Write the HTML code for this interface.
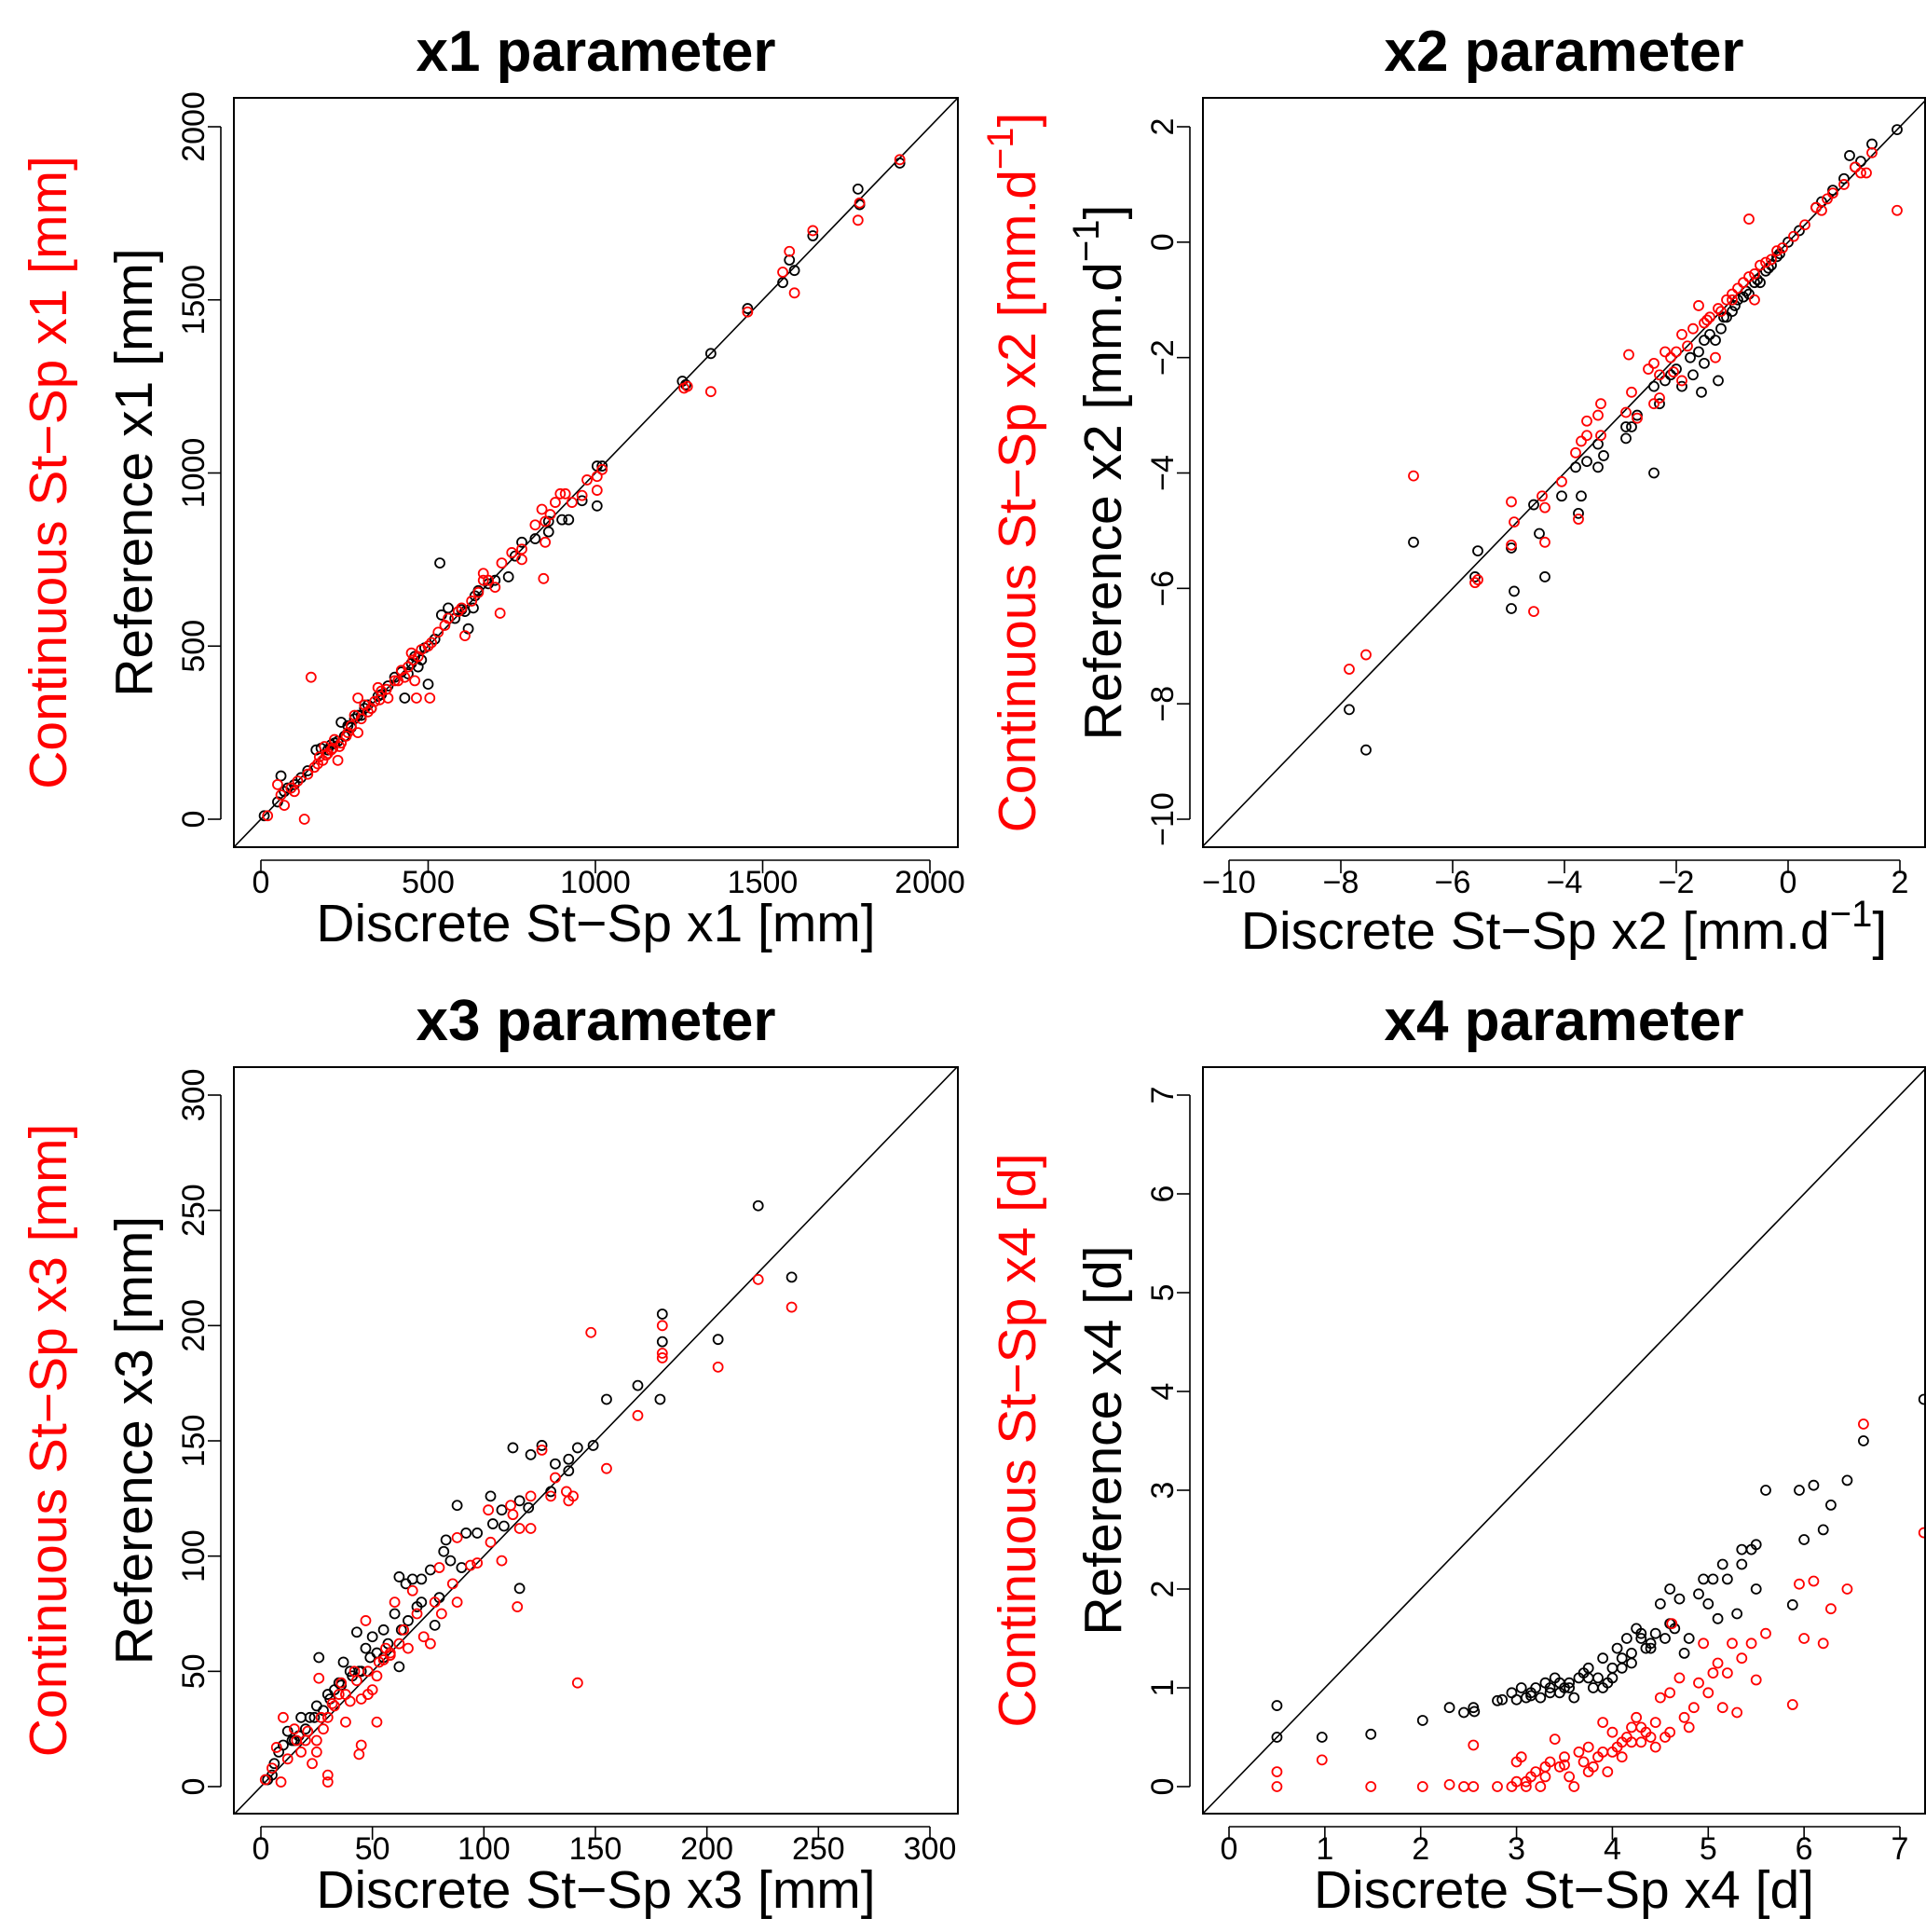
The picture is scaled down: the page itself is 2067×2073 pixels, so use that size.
<!DOCTYPE html>
<html><head><meta charset="utf-8">
<style>
html,body{margin:0;padding:0;background:#fff;overflow:hidden;width:2067px;height:2073px;}
svg{display:block;font-family:"Liberation Sans",Arial,sans-serif;}
</style></head>
<body>
<svg id="fig" width="2067" height="2073" viewBox="0 0 2067 2073" xmlns="http://www.w3.org/2000/svg"></svg>
<script>
// ---------- data: x1 panel ----------
const p1BlackX=[1910,1785,1790,1650,1595,1580,1560,1455,1345,1260,1270,1005,1020,1005,960,920,900,860,820,780,740,700,650,635,620,560,540,535,500,470,430,440,400,360,320,300,280,260,240,220,200,180,165,140,120,100,70,60,50,10,80,250,330,450,480,580,610,680,760,860,210,230,270,290,310,350,380,420,460,490,520,600,640];
const p1BlackY=[1895,1820,1775,1685,1585,1615,1550,1475,1345,1265,1255,1020,1020,905,920,865,865,830,810,800,700,690,660,610,550,610,590,740,390,440,350,420,410,360,330,300,290,270,280,220,200,205,200,140,120,100,80,125,50,10,90,240,320,450,460,580,600,680,760,860,215,225,265,300,320,355,385,425,470,495,520,605,645];
const p1RedX=[1910,1790,1785,1650,1595,1580,1560,1455,1345,1265,1275,1020,1005,1005,975,960,930,910,895,880,865,850,840,845,850,820,780,780,750,720,715,700,665,665,650,610,600,560,530,510,500,460,465,505,440,450,430,400,380,350,320,290,280,290,260,240,230,210,200,185,170,150,130,140,110,90,60,50,20,70,100,160,190,220,270,310,340,360,420,470,550,590,630,680,175,195,215,235,255,300,330,355,375,410,455,480];
const p1RedY=[1905,1780,1730,1700,1520,1640,1580,1465,1235,1245,1250,1010,990,950,980,935,915,940,940,915,880,860,895,695,800,850,780,750,770,740,595,670,710,690,655,530,610,580,540,510,500,400,350,350,440,480,410,400,350,380,310,350,300,250,250,220,170,200,190,170,160,410,0,130,110,90,70,100,10,40,80,150,210,230,270,330,340,370,430,470,560,600,630,690,180,185,205,210,240,290,320,345,375,400,460,490];
// ---------- data: x2 panel ----------
const p2BlackX=[1.95,1.5,1.1,1.3,1.0,0.8,0.5,0.2,0,-0.2,-0.4,-0.5,-0.7,-0.9,-1.0,-1.2,-1.3,-1.5,-1.6,-1.5,-1.75,-1.55,-1.25,-1.7,-1.9,-2.0,-2.2,-2.4,-2.3,-2.4,-2.7,-2.9,-2.8,-2.9,-3.3,-3.4,-3.6,-3.8,-3.4,-3.7,-4.05,-3.75,-4.55,-4.35,-4.45,-4.95,-4.9,-4.95,-5.55,-5.6,-6.7,-7.85,-7.55,-1.1,-0.8,-0.6,-0.3,-1.4,-2.1,0.6,1.2,-0.15,-0.35,-0.55,-0.75,-0.95,-1.15];
const p2BlackY=[1.95,1.7,1.5,1.4,1.1,0.9,0.6,0.2,0,-0.25,-0.5,-0.7,-0.9,-1.0,-1.2,-1.5,-1.7,-1.7,-1.9,-2.1,-2.0,-2.6,-2.4,-2.3,-2.5,-2.2,-2.4,-2.5,-2.8,-4.0,-3.0,-3.4,-3.2,-3.2,-3.7,-3.5,-3.8,-3.9,-3.9,-4.4,-4.4,-4.7,-4.55,-5.8,-5.05,-5.3,-6.05,-6.35,-5.35,-5.8,-5.2,-8.1,-8.8,-1.3,-0.95,-0.7,-0.4,-1.6,-2.3,0.7,1.3,-0.2,-0.45,-0.65,-0.85,-1.1,-1.3];
const p2RedX=[1.95,1.5,1.4,1.2,1.0,0.8,0.5,0.3,0.1,-0.1,-0.3,-0.5,-0.7,-0.7,-0.9,-0.6,-1.0,-1.2,-1.4,-1.6,-1.7,-1.8,-1.3,-1.9,-2.0,-2.1,-2.2,-2.4,-2.5,-2.3,-1.9,-2.85,-2.8,-2.3,-2.4,-2.7,-2.9,-3.35,-3.4,-3.6,-3.6,-3.7,-3.8,-3.35,-4.05,-4.4,-4.35,-3.75,-4.95,-4.9,-4.95,-4.35,-4.55,-5.55,-5.6,-6.7,-7.85,-7.55,-1.0,-0.8,-1.5,-2.05,0.6,0.7,1.3,-0.2,-0.4,-0.6,-1.1,-1.25,-1.45];
const p2RedY=[0.55,1.55,1.2,1.3,1.0,0.85,0.6,0.3,0.1,-0.1,-0.3,-0.4,0.4,-0.6,-0.8,-1.0,-0.9,-1.2,-1.3,-1.1,-1.5,-1.8,-2.0,-1.6,-1.9,-2.0,-1.9,-2.1,-2.2,-2.3,-2.4,-1.95,-2.6,-2.7,-2.8,-3.05,-2.95,-2.8,-3.0,-3.1,-3.35,-3.45,-3.65,-3.35,-4.15,-4.4,-4.6,-4.8,-4.5,-4.85,-5.25,-5.2,-6.4,-5.85,-5.9,-4.05,-7.4,-7.15,-1.0,-0.7,-1.4,-2.25,0.55,0.75,1.2,-0.15,-0.35,-0.55,-1.0,-1.15,-1.35];
// ---------- data: x3 panel ----------
const p3BlackX=[223,238,205,180,180,179,169,155,149,142,138,138,132,126,121,113,130,120,116,116,109,108,103,104,97,92,88,83,82,85,80,76,72,68,65,62,60,55,50,43,47,45,40,37,35,30,26,25,22,20,17,14,10,8,6,5,3,62,70,78,55,33,28,12,18,41,52,66,72,90,15,24,31,36,44,49,57,63];
const p3BlackY=[252,221,194,205,193,168,174,168,148,147,137,142,140,148,144,147,128,121,124,86,113,120,126,114,110,110,122,107,102,98,82,94,90,90,88,91,75,68,65,67,60,50,50,54,45,40,56,35,30,25,22,20,18,15,10,5,3,52,78,70,56,42,33,24,30,48,58,72,80,95,20,30,38,44,50,56,62,68];
const p3RedX=[223,238,205,180,180,180,169,155,148,142,140,138,137,132,130,126,121,121,116,115,112,113,108,102,103,97,94,88,88,86,81,80,76,73,70,68,64,60,58,55,52,50,47,45,48,40,38,36,30,26,25,23,20,25,30,30,45,44,52,10,9,7,5,2,15,18,33,62,56,66,78,35,42,28,12,16,21,27,32,38,43,48,53,58];
const p3RedY=[220,208,182,200,188,186,161,138,197,45,126,124,128,134,126,146,126,112,112,78,122,118,98,120,106,97,96,108,80,88,75,95,62,65,75,85,68,80,58,55,48,42,72,38,40,37,28,45,30,47,20,10,20,15,2,5,18,14,28,30,2,17,8,3,25,15,35,62,60,60,80,40,50,25,12,20,24,30,36,40,46,50,54,57];
// ---------- data: x4 panel ----------
const p4BlackX=[0.5,0.5,0.97,1.48,2.02,2.3,2.45,2.55,2.56,2.8,2.85,2.95,3.0,3.05,3.1,3.15,3.2,3.3,3.35,3.4,3.45,3.5,3.55,3.6,3.65,3.7,3.75,3.8,3.85,3.9,3.95,4.0,4.05,4.1,4.15,4.2,4.25,4.3,4.35,4.4,4.45,4.5,4.55,4.6,4.65,4.7,4.75,4.8,4.9,4.95,5.0,5.05,5.1,5.15,5.2,5.3,5.35,5.35,5.45,5.5,5.5,5.6,5.88,5.95,6.0,6.1,6.2,6.28,6.45,6.62,7.25,3.25,3.45,4.2,3.9,4.0,4.6,4.3,3.15,3.35,3.55,3.75,4.1,4.4];
const p4BlackY=[0.82,0.5,0.5,0.53,0.67,0.8,0.75,0.8,0.76,0.87,0.88,0.95,0.88,1.0,0.9,0.95,1.0,1.05,0.95,1.1,1.05,1.0,1.0,0.9,1.1,1.15,1.2,1.0,1.1,1.3,1.05,1.2,1.4,1.3,1.5,1.25,1.6,1.5,1.4,1.45,1.55,1.85,1.5,2.0,1.6,1.9,1.35,1.5,1.95,2.1,1.85,2.1,1.7,2.25,2.1,1.75,2.4,2.25,2.4,2.45,2.0,3.0,1.84,3.0,2.5,3.05,2.6,2.85,3.1,3.5,3.92,0.9,0.95,1.35,1.0,1.1,1.65,1.55,0.92,1.0,1.05,1.1,1.2,1.4];
const p4RedX=[0.5,0.5,0.97,1.48,2.02,2.3,2.45,2.55,2.55,2.8,2.95,3.0,3.0,3.05,3.1,3.15,3.2,3.25,3.3,3.35,3.4,3.45,3.5,3.55,3.6,3.65,3.7,3.75,3.8,3.85,3.9,3.95,4.0,4.05,4.1,4.15,4.2,4.25,4.3,4.35,4.4,4.45,4.5,4.55,4.6,4.62,4.7,4.75,4.8,4.85,4.9,4.95,5.0,5.05,5.1,5.15,5.2,5.25,5.3,5.35,5.45,5.5,5.6,5.88,5.95,6.0,6.1,6.2,6.28,6.45,6.62,7.25,4.0,4.2,3.75,4.45,4.6,3.1,3.3,3.5,3.9,4.1,4.3];
const p4RedY=[0,0.15,0.27,0,0,0.02,0,0,0.42,0,0,0.05,0.25,0.3,0,0.1,0.15,0,0.2,0.25,0.48,0.2,0.3,0.1,0,0.35,0.25,0.4,0.2,0.3,0.65,0.15,0.55,0.4,0.3,0.5,0.6,0.7,0.45,0.55,0.5,0.65,0.9,0.5,0.95,1.65,1.1,0.7,0.6,0.8,1.05,1.45,0.95,1.15,1.25,0.8,1.15,1.45,0.75,1.3,1.45,1.08,1.55,0.83,2.05,1.5,2.08,1.45,1.8,2.0,3.67,2.57,0.35,0.45,0.15,0.4,0.55,0.05,0.1,0.22,0.35,0.45,0.6];
// ---------- tick labels ----------
const p1Ticks=[0,500,1000,1500,2000];
const p2Ticks=[-10,-8,-6,-4,-2,0,2];
const p3Ticks=[0,50,100,150,200,250,300];
const p4Ticks=[0,1,2,3,4,5,6,7];

const NS="http://www.w3.org/2000/svg";
const svg=document.getElementById('fig');
function mk(tag,attrs,parent){const e=document.createElementNS(NS,tag);for(const k in attrs)e.setAttribute(k,attrs[k]);(parent||svg).appendChild(e);return e;}

const panels=[
 {id:'x1',box:[251,105,1028,909],xd:[0,2000],xp:[280,998],yd:[0,2000],yp:[879,136],ticks:p1Ticks,
  bx:p1BlackX,by:p1BlackY,rx:p1RedX,ry:p1RedY,unit:'[mm]',sup:false},
 {id:'x2',box:[1291,105,2066,909],xd:[-10,2],xp:[1319,2039],yd:[-10,2],yp:[879,136],ticks:p2Ticks,
  bx:p2BlackX,by:p2BlackY,rx:p2RedX,ry:p2RedY,unit:'',sup:true},
 {id:'x3',box:[251,1145,1028,1946],xd:[0,300],xp:[280,998],yd:[0,300],yp:[1917,1175],ticks:p3Ticks,
  bx:p3BlackX,by:p3BlackY,rx:p3RedX,ry:p3RedY,unit:'[mm]',sup:false},
 {id:'x4',box:[1291,1145,2066,1946],xd:[0,7],xp:[1319,2039],yd:[0,7],yp:[1917,1175],ticks:p4Ticks,
  bx:p4BlackX,by:p4BlackY,rx:p4RedX,ry:p4RedY,unit:'[d]',sup:false}
];

panels.forEach((P,i)=>{
  const g=mk('g',{});
  
  
  const sx=v=>P.xp[0]+(v-P.xd[0])/(P.xd[1]-P.xd[0])*(P.xp[1]-P.xp[0]);
  const sy=v=>P.yp[0]+(v-P.yd[0])/(P.yd[1]-P.yd[0])*(P.yp[1]-P.yp[0]);
  const [L,T,R,B]=P.box;
  const cx=(L+R)/2;
  const t=mk('text',{x:cx,y:T-29,'text-anchor':'middle','font-size':62,'font-weight':'bold',fill:'#000'},g);
  t.textContent=P.id+' parameter';
  
  
  const cp=mk('clipPath',{id:'clip'+i},g);
  mk('rect',{x:L,y:T,width:R-L,height:B-T},cp);
  const lo=Math.min(P.xd[0],P.yd[0])-100, hi=Math.max(P.xd[1],P.yd[1])+100;
  const dl=mk('line',{x1:sx(lo),y1:sy(lo),x2:sx(hi),y2:sy(hi),stroke:'#000','stroke-width':1.6,'clip-path':'url(#clip'+i+')'},g);
  
  
  const drawPts=(xs,ys,col,nm)=>{
    const pg=mk('g',{'clip-path':'url(#clip'+i+')'},g);
    
    
    xs.forEach((v,k)=>{
      const c=mk('circle',{cx:sx(v),cy:sy(ys[k]),r:5,fill:'none',stroke:col,'stroke-width':1.8},pg);
      
      
    });
  };
  drawPts(P.bx,P.by,'#000','reference');
  drawPts(P.rx,P.ry,'#ff0000','continuous');
  const bx=mk('rect',{x:L,y:T,width:R-L,height:B-T,fill:'none',stroke:'#000','stroke-width':2},g);
  
  
  const xa=mk('g',{},g);
  
  
  mk('line',{x1:sx(P.ticks[0]),y1:B+14,x2:sx(P.ticks[P.ticks.length-1]),y2:B+14,stroke:'#000','stroke-width':1.6},xa);
  P.ticks.forEach(v=>{
    mk('line',{x1:sx(v),y1:B+14,x2:sx(v),y2:B+28,stroke:'#000','stroke-width':1.6},xa);
    const tl=mk('text',{x:sx(v),y:B+49,'text-anchor':'middle','font-size':34,fill:'#000'},xa);
    tl.textContent=String(v).replace('-','\u2212');
    
    
  });
  const ya=mk('g',{},g);
  
  
  mk('line',{x1:L-14,y1:sy(P.ticks[0]),x2:L-14,y2:sy(P.ticks[P.ticks.length-1]),stroke:'#000','stroke-width':1.6},ya);
  P.ticks.forEach(v=>{
    mk('line',{x1:L-14,y1:sy(v),x2:L-28,y2:sy(v),stroke:'#000','stroke-width':1.6},ya);
    const yy=sy(v), xx=L-32;
    const tl=mk('text',{x:xx,y:yy,'text-anchor':'middle','font-size':34,fill:'#000',transform:`rotate(-90 ${xx} ${yy})`},ya);
    tl.textContent=String(v).replace('-','\u2212');
    
    
  });
  const cy=(T+B)/2;
  const supHTML='[mm.d<tspan dy="-24" font-size="40">\u22121</tspan><tspan dy="24">]</tspan>';
  const xl=mk('text',{x:cx,y:B+101+(P.sup?8:0),'text-anchor':'middle','font-size':57,fill:'#000'},g);
  if(P.sup) xl.innerHTML='Discrete St\u2212Sp '+P.id+' '+supHTML;
  else xl.textContent='Discrete St\u2212Sp '+P.id+' '+P.unit;
  
  
  const yx=L-88;
  const yl=mk('text',{x:yx,y:cy,'text-anchor':'middle','font-size':57,fill:'#000',transform:`rotate(-90 ${yx} ${cy})`},g);
  if(P.sup) yl.innerHTML='Reference '+P.id+' '+supHTML;
  else yl.textContent='Reference '+P.id+' '+P.unit;
  
  
  const rx=L-180;
  const rl=mk('text',{x:rx,y:cy,'text-anchor':'middle','font-size':57,fill:'#ff0000',transform:`rotate(-90 ${rx} ${cy})`},g);
  if(P.sup) rl.innerHTML='Continuous St\u2212Sp '+P.id+' '+supHTML;
  else rl.textContent='Continuous St\u2212Sp '+P.id+' '+P.unit;
  
  
});
</script>
</body></html>
